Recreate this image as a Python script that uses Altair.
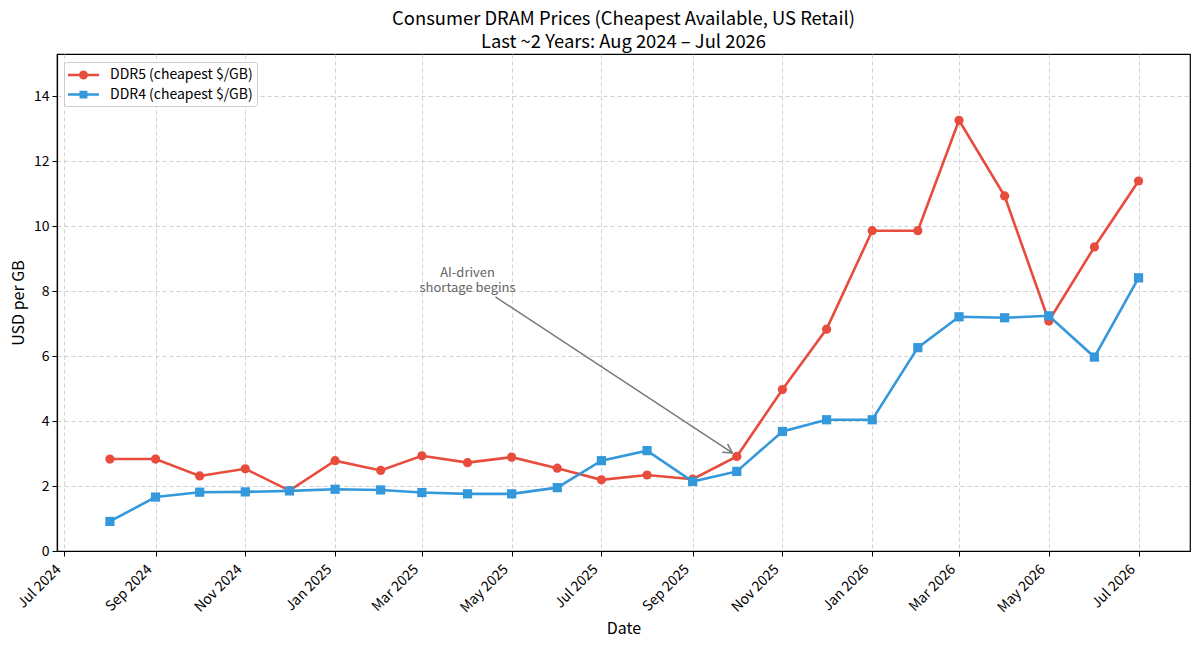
import altair as alt
import pandas as pd

# ---------------- data ----------------
months = ["2024-08-01", "2024-09-01", "2024-10-01", "2024-11-01", "2024-12-01",
          "2025-01-01", "2025-02-01", "2025-03-01", "2025-04-01", "2025-05-01",
          "2025-06-01", "2025-07-01", "2025-08-01", "2025-09-01", "2025-10-01",
          "2025-11-01", "2025-12-01", "2026-01-01", "2026-02-01", "2026-03-01",
          "2026-04-01", "2026-05-01", "2026-06-01", "2026-07-01"]
ddr5 = [2.83, 2.83, 2.31, 2.53, 1.86, 2.78, 2.48, 2.93, 2.72, 2.89, 2.55, 2.19,
        2.34, 2.21, 2.91, 4.97, 6.83, 9.86, 9.86, 13.26, 10.93, 7.08, 9.36, 11.39]
ddr4 = [0.91, 1.66, 1.81, 1.82, 1.85, 1.90, 1.88, 1.80, 1.76, 1.76, 1.95, 2.78,
        3.09, 2.14, 2.45, 3.68, 4.04, 4.04, 6.26, 7.21, 7.18, 7.24, 5.97, 8.41]
series_names = ["DDR5 (cheapest $/GB)", "DDR4 (cheapest $/GB)"]
series_colors = ["#e74c3c", "#3498db"]

# x tick positions (every two months)
tick_months = [(2024, 7), (2024, 9), (2024, 11), (2025, 1), (2025, 3), (2025, 5),
               (2025, 7), (2025, 9), (2025, 11), (2026, 1), (2026, 3), (2026, 5),
               (2026, 7)]
y_ticks = [0, 2, 4, 6, 8, 10, 12, 14]

# annotation
ann_text_pos = ("2025-04-01", 8.34)
ann_lines = ["AI-driven", "shortage begins"]
arrow_start = ("2025-04-20", 7.82)
arrow_end = ("2025-09-28", 3.02)

FONT = "Noto Sans CJK SC"

# ---------------- frames ----------------
rows = []
for name, vals in zip(series_names, [ddr5, ddr4]):
    for m, v in zip(months, vals):
        rows.append({"date": pd.Timestamp(m), "value": v, "series": name})
df = pd.DataFrame(rows)

ann_df = pd.DataFrame({"date": [pd.Timestamp(ann_text_pos[0])], "value": [ann_text_pos[1]]})
arrow_df = pd.DataFrame({
    "x": [pd.Timestamp(arrow_start[0])], "y": [arrow_start[1]],
    "x2": [pd.Timestamp(arrow_end[0])], "y2": [arrow_end[1]],
})
head_df = pd.DataFrame({"x": [pd.Timestamp(arrow_end[0])], "y": [arrow_end[1]]})

x_scale = alt.Scale(domain=[alt.DateTime(year=2024, month=6, date=26, hours=1),
                            alt.DateTime(year=2026, month=8, date=4, hours=23)])
y_scale = alt.Scale(domain=[0, 15.3], nice=False, zero=True)

x_enc = alt.X("date:T", scale=x_scale, title="Date",
              axis=alt.Axis(values=[alt.DateTime(year=y, month=m, date=1) for y, m in tick_months],
                            format="%b %Y", labelAngle=315, labelAlign="right",
                            labelBaseline="middle", labelPadding=11, labelOffset=-6,
                            titlePadding=6))
y_enc = alt.Y("value:Q", scale=y_scale, title="USD per GB",
              axis=alt.Axis(values=y_ticks, titlePadding=7, labelPadding=3))

color_scale = alt.Scale(domain=series_names, range=series_colors)

lines = alt.Chart(df).mark_line(strokeWidth=2.6).encode(
    x=x_enc, y=y_enc,
    color=alt.Color("series:N", scale=color_scale, legend=None),
)
points = alt.Chart(df).mark_point(filled=True, size=85, opacity=1).encode(
    x=x_enc, y=y_enc,
    color=alt.Color("series:N", scale=color_scale, legend=None),
    shape=alt.Shape("series:N", scale=alt.Scale(domain=series_names, range=["circle", "square"]),
                    legend=None),
)

# legend glyphs: short line with marker (unit = 9 px for symbolSize 324)
circle_path = ("M-1,-0.14H2.44V0.14H-1Z "
               "M0.72,-0.5A0.5,0.5 0 1 1 0.72,0.5A0.5,0.5 0 1 1 0.72,-0.5Z")
square_path = "M-1,-0.14H2.44V0.14H-1Z M0.28,-0.44H1.16V0.44H0.28Z"

legend_props = dict(title=None, orient="none", legendX=7, legendY=8, symbolSize=324,
                    symbolOpacity=1, symbolStrokeWidth=0, labelFontSize=14,
                    labelFont=FONT, labelColor="black", fillColor="white",
                    strokeColor="#cccccc", padding=4, cornerRadius=3,
                    labelOffset=24, rowPadding=3.6)
legend_layer = alt.Chart(df).mark_point(filled=True, opacity=0).encode(
    x=x_enc, y=y_enc,
    color=alt.Color("series:N", scale=color_scale, legend=alt.Legend(**legend_props)),
    shape=alt.Shape("series:N", scale=alt.Scale(domain=series_names,
                                                 range=[circle_path, square_path]),
                    legend=alt.Legend(**legend_props)),
)

ann_text = alt.Chart(ann_df).mark_text(
    align="center", baseline="bottom", fontSize=13, font=FONT, color="#666666",
    lineHeight=15,
).encode(x="date:T", y="value:Q", text=alt.value(ann_lines))

arrow = alt.Chart(arrow_df).mark_rule(color="#777777", strokeWidth=1.5).encode(
    x="x:T", y="y:Q", x2="x2:T", y2="y2:Q")
head = alt.Chart(head_df).mark_point(
    shape="M-1,-0.55L0,0L-1,0.55", filled=False, size=324, angle=33,
    color="#777777", strokeWidth=1.5, opacity=1,
).encode(x="x:T", y="y:Q")

chart = alt.layer(lines, points, legend_layer, arrow, head, ann_text).resolve_scale(
    color="independent", shape="independent"
).properties(
    width=1133, height=497,
    autosize=alt.AutoSizeParams(type="none"),
    padding={"left": 49, "top": 46, "right": 2, "bottom": 94},
    title=alt.TitleParams(
        ["Consumer DRAM Prices (Cheapest Available, US Retail)",
         "Last ~2 Years: Aug 2024 \u2013 Jul 2026"],
        fontSize=18.4, fontWeight="normal", font=FONT, color="black",
        anchor="middle", lineHeight=23, offset=3,
    ),
).configure_view(
    stroke="black", strokeWidth=1.2,
).configure_axis(
    domain=True, domainColor="black", domainWidth=1.2,
    ticks=True, tickColor="black", tickSize=5, tickWidth=1,
    grid=True, gridColor="#cccccc", gridDash=[4, 3], gridWidth=0.9,
    labelFont=FONT, labelFontSize=14, labelColor="black",
    titleFont=FONT, titleFontSize=16, titleFontWeight="normal", titleColor="black",
)

chart.save("out.html", embed_options={"renderer": "svg", "actions": False})
